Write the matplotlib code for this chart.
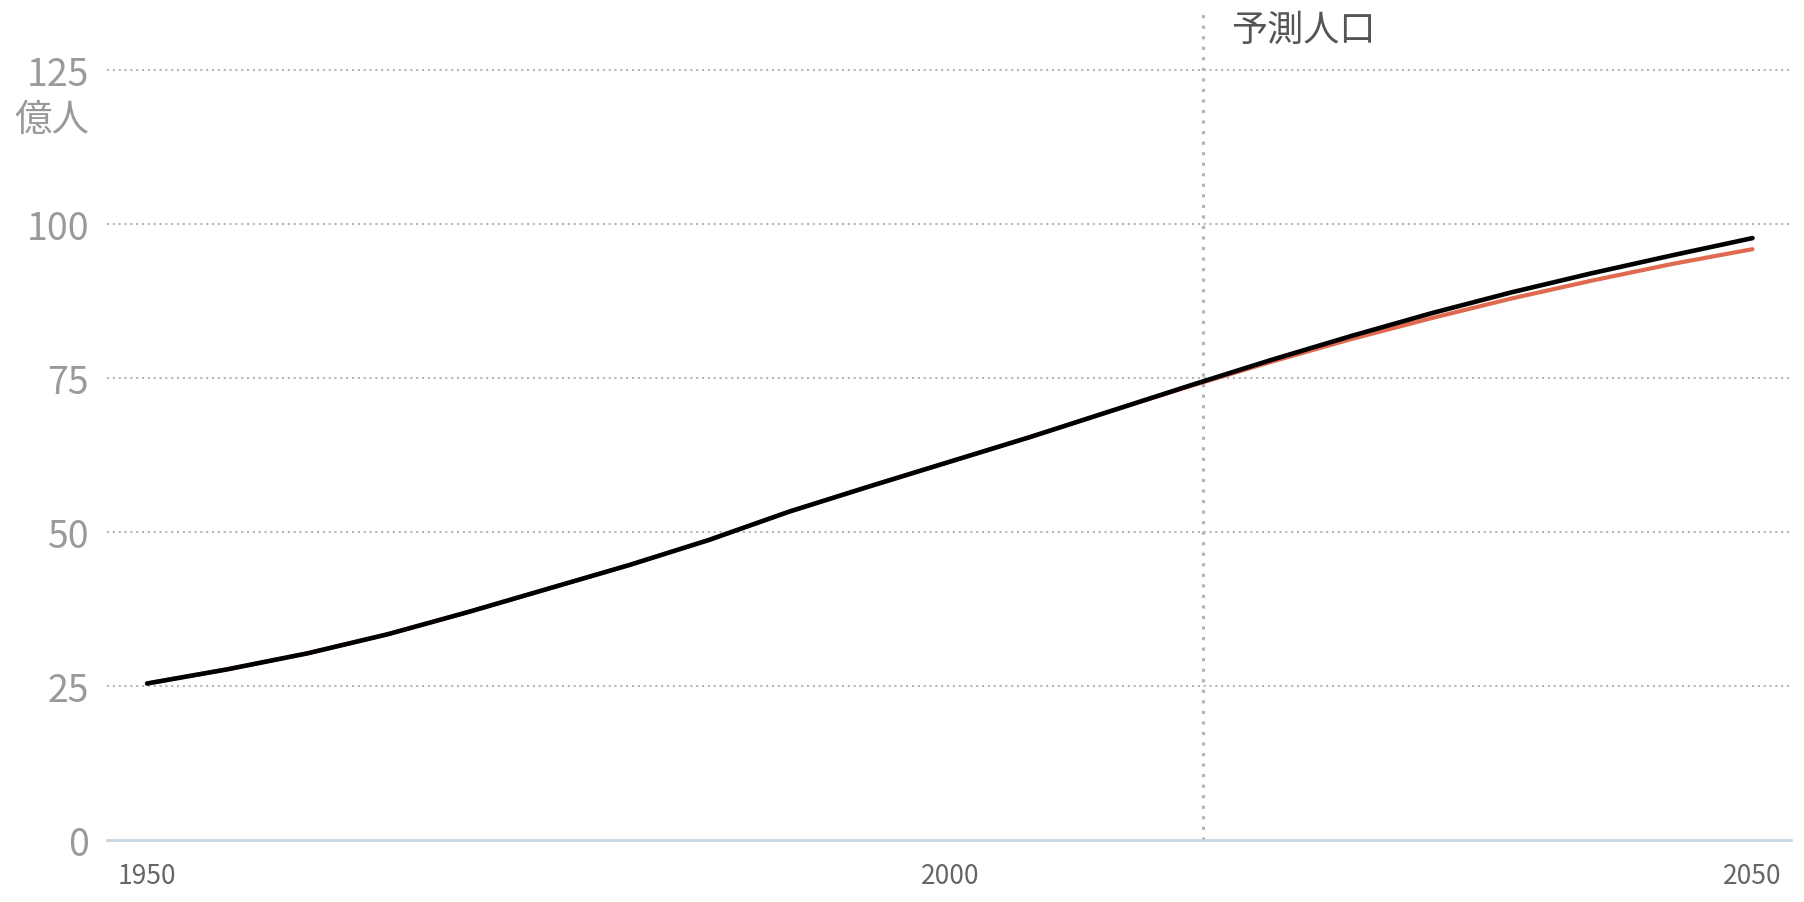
import matplotlib.pyplot as plt

plt.rcParams['font.family'] = ['Liberation Sans Narrow', 'Noto Sans CJK JP', 'DejaVu Sans']

# world population, 億人
years = [1950, 1955, 1960, 1965, 1970, 1975, 1980, 1985, 1990, 1995, 2000,
         2005, 2010, 2015, 2020, 2025, 2030, 2035, 2040, 2045, 2050]
pop_main = [25.4, 27.7, 30.3, 33.4, 37.0, 40.8, 44.6, 48.7, 53.3, 57.4, 61.4,
            65.4, 69.6, 73.8, 77.9, 81.8, 85.5, 88.9, 92.0, 94.9, 97.7]
pop_alt = [25.4, 27.7, 30.3, 33.4, 37.0, 40.8, 44.6, 48.7, 53.3, 57.4, 61.4,
           65.4, 69.6, 73.7, 77.6, 81.3, 84.7, 87.9, 90.8, 93.5, 95.9]

projection_start = 2015.75
yticks = [0, 25, 50, 75, 100, 125]
xticks = [1950, 2000, 2050]

fig = plt.figure(figsize=(18.04, 9.03), dpi=100)
ax = fig.add_axes([0.0593, 0.0687, 0.9335, 0.921])

ax.plot(years, pop_alt, color='#e06a50', lw=3.0, solid_capstyle='round', zorder=3)
ax.plot(years, pop_main, color='black', lw=3.3, solid_capstyle='round', zorder=4)

for v in yticks[1:]:
    ax.axhline(v, color='#b5b5b5', lw=1.5, ls=(0, (1, 1.8)), zorder=1)
ax.axvline(projection_start, color='#b5b5b5', lw=2.3, ls=(0, (1, 2.3)), zorder=2)

ax.set_xlim(1947.5, 2052.4)
ax.set_ylim(0, 135)
ax.set_yticks(yticks)
ax.set_xticks(xticks)
ax.set_xticklabels([str(x) for x in xticks])

for s in ['top', 'right', 'left']:
    ax.spines[s].set_visible(False)
ax.spines['bottom'].set_color('#c8d6e2')
ax.spines['bottom'].set_linewidth(2)

ax.tick_params(axis='y', length=0, pad=13, labelsize=27, labelcolor='#9a9a9a')
ax.tick_params(axis='x', length=0, pad=16, labelsize=19, labelcolor='#666666')

fig.text(0.008, 1 - 120 / 903, '億人', fontsize=27, color='#999999',
         va='center', ha='left', family=['Noto Sans CJK JP', 'DejaVu Sans'])
ax.text(projection_start + 1.8, 131.5, '予測人口', fontsize=26, color='#555555',
        va='center', ha='left', family=['Noto Sans CJK JP', 'DejaVu Sans'])

fig.savefig('out.png', dpi=100)
